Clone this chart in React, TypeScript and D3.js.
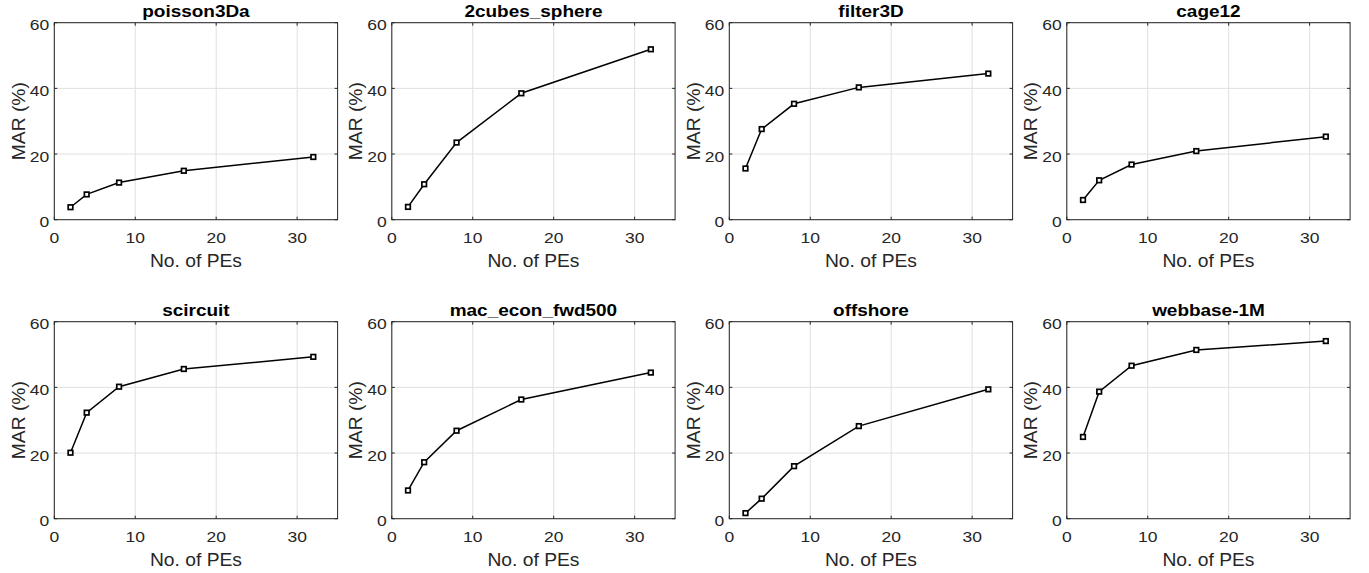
import React from "react";
import * as d3 from "d3";

const peCounts = [2, 4, 8, 16, 32];
const titles = [
  "poisson3Da",
  "2cubes_sphere",
  "filter3D",
  "cage12",
  "scircuit",
  "mac_econ_fwd500",
  "offshore",
  "webbase-1M",
];
const poisson3Da = [3.8, 7.7, 11.3, 14.9, 19.1];
const cubesSphere = [3.9, 10.8, 23.5, 38.5, 51.9];
const filter3D = [15.6, 27.6, 35.3, 40.3, 44.5];
const cage12 = [6.0, 12.0, 16.8, 20.9, 25.3];
const scircuit = [20.1, 32.3, 40.2, 45.6, 49.3];
const macEcon = [8.6, 17.2, 26.8, 36.3, 44.5];
const offshore = [1.7, 6.1, 16.0, 28.2, 39.4];
const webbase = [24.9, 38.7, 46.6, 51.4, 54.1];
const seriesList = [poisson3Da, cubesSphere, filter3D, cage12, scircuit, macEcon, offshore, webbase];
const xTicks = [0, 10, 20, 30];
const yTicks = [0, 20, 40, 60];
const xDomain = [0, 35];
const yDomain = [0, 60];
const xLabel = "No. of PEs";
const yLabel = "MAR (%)";

const W = 1369;
const H = 573;
const LEFT0 = 54.3;
const COL_STEP = 337.5;
const PW = 283.3;
const TOPS = [22.7, 321.7];
const PH = 197;
const AX = "#262626";
const FONT = "'Liberation Sans', Arial, Helvetica, sans-serif";

type TProps = {
  x: number;
  y: number;
  size: number;
  sx: number;
  anchor: "start" | "middle" | "end";
  bold?: boolean;
  fill?: string;
  rotate?: number;
  children: React.ReactNode;
};

function T({ x, y, size, sx, anchor, bold, fill, rotate, children }: TProps) {
  const tr = `translate(${x},${y})` + (rotate ? ` rotate(${rotate})` : "") + ` scale(${sx},1)`;
  return (
    <text
      transform={tr}
      textAnchor={anchor}
      fontSize={size}
      fontWeight={bold ? "bold" : "normal"}
      fill={fill || AX}
      fontFamily={FONT}
    >
      {children}
    </text>
  );
}

function Panel({ idx }: { idx: number }) {
  const col = idx % 4;
  const row = Math.floor(idx / 4);
  const x0 = LEFT0 + col * COL_STEP;
  const y0 = TOPS[row];
  const x = d3.scaleLinear().domain(xDomain).range([x0, x0 + PW]);
  const y = d3.scaleLinear().domain(yDomain).range([y0 + PH, y0]);
  const vals = seriesList[idx];
  const pts = peCounts.map((p, i) => [p, vals[i]] as [number, number]);
  const line = d3
    .line<[number, number]>()
    .x((d) => x(d[0]))
    .y((d) => y(d[1]));
  const tl = 3;
  return (
    <g>
      <rect x={x0} y={y0} width={PW} height={PH} fill="#fff" />
      {xTicks.map((t) => (
        <line key={"gx" + t} x1={x(t)} x2={x(t)} y1={y0} y2={y0 + PH} stroke="#e0e0e0" strokeWidth={1} />
      ))}
      {yTicks.map((t) => (
        <line key={"gy" + t} x1={x0} x2={x0 + PW} y1={y(t)} y2={y(t)} stroke="#e0e0e0" strokeWidth={1} />
      ))}
      {xTicks.map((t) => (
        <g key={"tx" + t}>
          <line x1={x(t)} x2={x(t)} y1={y0 + PH} y2={y0 + PH - tl} stroke={AX} strokeWidth={1} />
          <line x1={x(t)} x2={x(t)} y1={y0} y2={y0 + tl} stroke={AX} strokeWidth={1} />
          <T x={x(t)} y={y0 + PH + 23} size={15.5} sx={1.13} anchor="middle">
            {t}
          </T>
        </g>
      ))}
      {yTicks.map((t) => (
        <g key={"ty" + t}>
          <line x1={x0} x2={x0 + tl} y1={y(t)} y2={y(t)} stroke={AX} strokeWidth={1} />
          <line x1={x0 + PW} x2={x0 + PW - tl} y1={y(t)} y2={y(t)} stroke={AX} strokeWidth={1} />
          <T x={x0 - 5} y={y(t) + 7.5} size={15.5} sx={1.13} anchor="end">
            {t}
          </T>
        </g>
      ))}
      <rect x={x0} y={y0} width={PW} height={PH} fill="none" stroke={AX} strokeWidth={1} />
      <path d={line(pts) || ""} fill="none" stroke="#000" strokeWidth={1.5} />
      {pts.map((d, i) => (
        <rect
          key={"m" + i}
          x={x(d[0]) - 2.3}
          y={y(d[1]) - 2.3}
          width={4.6}
          height={4.6}
          fill="#fff"
          stroke="#000"
          strokeWidth={1.7}
        />
      ))}
      <T x={x0 + PW / 2} y={y0 - 6} size={15.8} sx={1.2} anchor="middle" bold fill="#000">
        {titles[idx]}
      </T>
      <T x={x0 + PW / 2} y={y0 + PH + 47} size={17.5} sx={1.1} anchor="middle">
        {xLabel}
      </T>
      <T x={x0 - 29.5} y={y0 + PH / 2} size={17.5} sx={1.1} anchor="middle" rotate={-90}>
        {yLabel}
      </T>
    </g>
  );
}

export default function App() {
  return (
    <svg
      width={W}
      height={H}
      viewBox={`0 0 ${W} ${H}`}
      style={{ position: "absolute", left: 0, top: 0, background: "#fff" }}
    >
      <rect x={0} y={0} width={W} height={H} fill="#fff" />
      {titles.map((_, i) => (
        <Panel key={i} idx={i} />
      ))}
    </svg>
  );
}
